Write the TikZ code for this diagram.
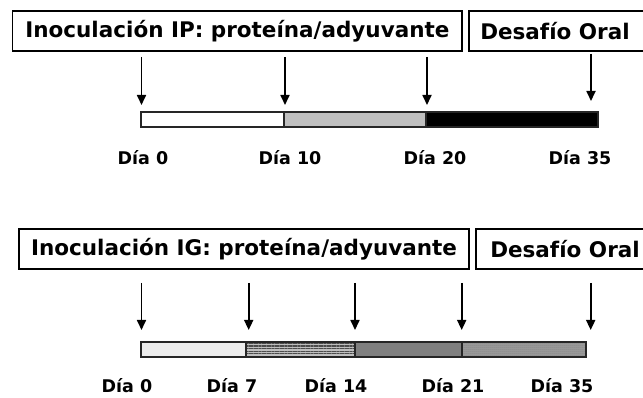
\documentclass[tikz,border=0pt]{standalone}
\usepackage{fontspec}
\setmainfont{DejaVu Sans}
\usetikzlibrary{arrows.meta,patterns.meta}
\begin{document}
\begin{tikzpicture}[x=1pt,y=-1pt,
  titlebox/.style={draw=black,line width=1.1pt,inner sep=0pt,font=\bfseries\fontsize{21.5}{24}\selectfont},
  daylabel/.style={font=\bfseries\fontsize{17.5}{20}\selectfont,inner sep=0pt},
  pointer/.style={line width=1.7pt,-{Triangle[length=10pt,width=9pt]}},
  seg/.style={draw=black!85,line width=1.3pt}]
\useasboundingbox (0,0) rectangle (643,398);

% ---------- intraperitoneal schedule ----------
\draw[titlebox] (12.7,11) rectangle (462,51);
\node[titlebox,draw=none] (ipbox) at (237.4,31) {Inoculación IP: proteína/adyuvante};
\draw[titlebox] (469,11) rectangle (650,51);
\node[titlebox,draw=none] (iporal) at (555,31) {Desafío Oral};

\filldraw[seg,fill=white] (141,112) rectangle (284,127);
\filldraw[seg,fill=black!25] (284,112) rectangle (426,127);
\filldraw[seg,fill=black] (426,112) rectangle (598,127);

\foreach \x/\n in {141.5/a,285/b,427/c}{
  \coordinate (ip\n top) at (\x,57);
  \coordinate (ip\n tip) at (\x,105);
  \draw[pointer] (ip\n top) -- (ip\n tip);
}
\coordinate (ipdtop) at (591,54);
\coordinate (ipdtip) at (591,101);
\draw[pointer] (ipdtop) -- (ipdtip);

\node[daylabel] (ipd0)  at (143,158) {Día 0};
\node[daylabel] (ipd10) at (290,158) {Día 10};
\node[daylabel] (ipd20) at (435,158) {Día 20};
\node[daylabel] (ipd35) at (580,158) {Día 35};

% ---------- intragastric schedule ----------
\draw[titlebox] (19,229) rectangle (469,269);
\node[titlebox,draw=none] (igbox) at (244,249) {Inoculación IG: proteína/adyuvante};
\draw[titlebox] (476,229) rectangle (650,269);
\node[titlebox,draw=none] (igoral) at (565,249) {Desafío Oral};

\filldraw[seg,fill=black!5] (141,342) rectangle (246,357);
\fill[pattern={Dots[distance=2pt,radius=0.35pt]},pattern color=black!25] (141,342) rectangle (246,357);
\draw[seg] (141,342) rectangle (246,357);
\filldraw[seg,fill=black!25] (246,342) rectangle (355,357);
\fill[pattern={Lines[angle=0,distance=2.6pt,line width=1.1pt]},pattern color=black!70] (246,342) rectangle (355,357);
\draw[seg] (246,342) rectangle (355,357);
\filldraw[seg,fill=black!50] (355,342) rectangle (462,357);
\filldraw[seg,fill=black!38] (462,342) rectangle (586,357);
\fill[pattern={Dots[distance=2pt,radius=0.5pt]},pattern color=black!60] (462,342) rectangle (586,357);
\draw[seg] (462,342) rectangle (586,357);

\foreach \x/\n in {141.5/a,248.7/b,355/c,461.7/d,590.7/e}{
  \coordinate (ig\n top) at (\x,283);
  \coordinate (ig\n tip) at (\x,330);
  \draw[pointer] (ig\n top) -- (ig\n tip);
}

\node[daylabel] (igd0)  at (127,386) {Día 0};
\node[daylabel] (igd7)  at (232,386) {Día 7};
\node[daylabel] (igd14) at (336,386) {Día 14};
\node[daylabel] (igd21) at (453,386) {Día 21};
\node[daylabel] (igd35) at (562,386) {Día 35};
\end{tikzpicture}
\end{document}
